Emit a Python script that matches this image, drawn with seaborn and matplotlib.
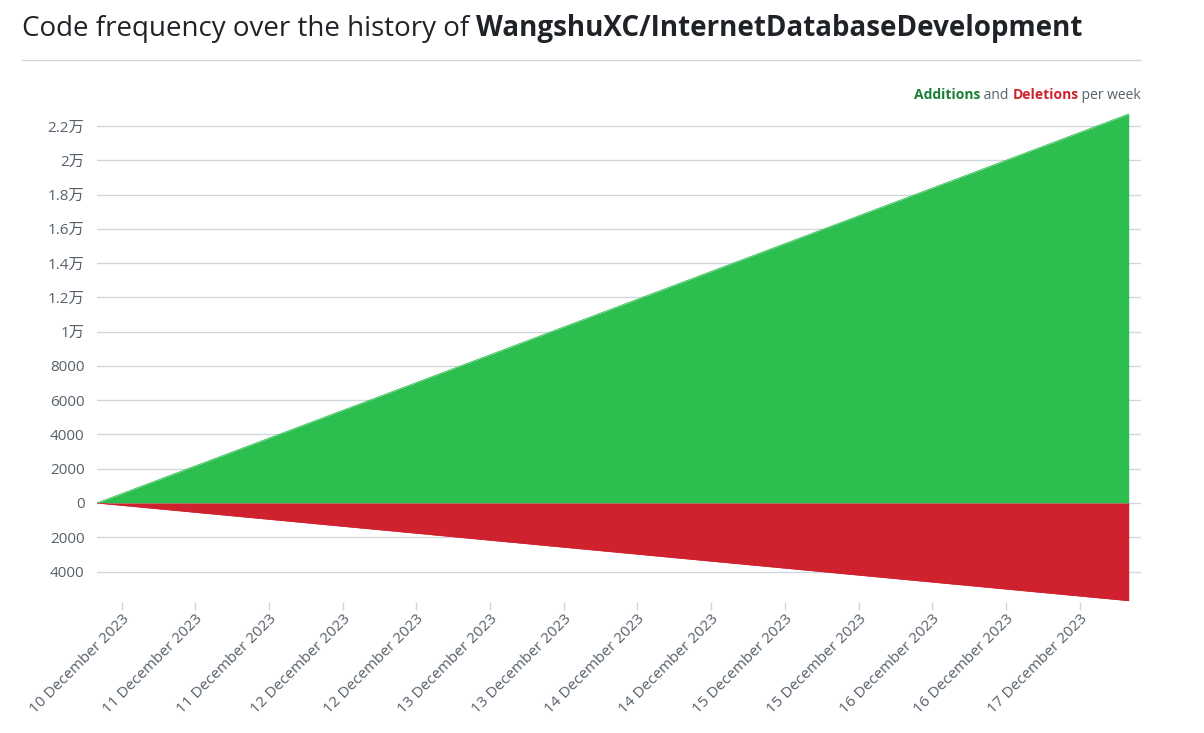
import numpy as np
import pandas as pd
import matplotlib
matplotlib.use("Agg")
import matplotlib.pyplot as plt
import matplotlib.dates as mdates
from matplotlib.ticker import FuncFormatter
import seaborn as sns

# data
weeks = pd.to_datetime(["2023-12-10 08:00", "2023-12-17 08:00"])
additions = [0, 22700]
deletions = [0, -5700]
y_ticks = [-4000, -2000, 0, 2000, 4000, 6000, 8000, 10000, 12000, 14000, 16000, 18000, 20000, 22000]
repo = "WangshuXC/InternetDatabaseDevelopment"

green = "#2cbe4e"
red = "#cf222e"
grey_txt = "#57606a"
grid_col = "#d0d7de"

sns.set_theme(style="white")
plt.rcParams['font.family'] = ['Open Sans', 'Noto Sans CJK SC', 'DejaVu Sans']

W, H = 1204, 733
fig = plt.figure(figsize=(W / 100, H / 100), dpi=100)
ax = fig.add_axes([97 / W, 1 - 602 / H, (1141 - 97) / W, (602 - 110) / H])

df = pd.DataFrame({"week": weeks, "Additions": additions, "Deletions": deletions})
sns.lineplot(data=df, x="week", y="Additions", ax=ax, color=green, linewidth=0.6)
sns.lineplot(data=df, x="week", y="Deletions", ax=ax, color=red, linewidth=0.6)
ax.fill_between(df["week"], 0, df["Additions"], color=green, linewidth=0)
ax.fill_between(df["week"], 0, df["Deletions"], color=red, linewidth=0)

ax.set_xlim(weeks[0], weeks[-1] + pd.Timedelta(hours=2))
ax.set_ylim(-5778, 22934)

# y axis
def fmt_y(v, pos):
    v = abs(v)
    if v >= 10000:
        s = f"{v / 10000:.1f}".rstrip("0").rstrip(".")
        return s + "万"
    return f"{int(v)}"

ax.set_yticks(y_ticks)
ax.yaxis.set_major_formatter(FuncFormatter(fmt_y))
ax.grid(axis="y", color=grid_col, linewidth=1)
ax.set_axisbelow(True)

# x axis
xt = pd.date_range("2023-12-10 12:00", periods=14, freq="12h")
ax.set_xticks(xt)
ax.xaxis.set_major_formatter(mdates.DateFormatter("%d December %Y"))
for lab in ax.get_xticklabels():
    lab.set_rotation(45)
    lab.set_ha("right")
    lab.set_rotation_mode("anchor")

ax.tick_params(axis="x", direction="out", length=6, width=1, color=grid_col,
               labelsize=11, labelcolor=grey_txt, pad=1, bottom=True)
ax.tick_params(axis="y", length=0, labelsize=11, labelcolor=grey_txt, pad=9)
for s in ax.spines.values():
    s.set_visible(False)
ax.set_xlabel("")
ax.set_ylabel("")

# title
fig.canvas.draw()
r = fig.canvas.get_renderer()
t1 = fig.text(22 / W, 1 - 36 / H, "Code frequency over the history of ", fontsize=20,
              color="#1f2328", va="baseline", ha="left")
fig.canvas.draw()
bb = t1.get_window_extent(r)
fig.text(bb.x1 / W, 1 - 36 / H, repo, fontsize=20, fontweight="bold",
         color="#1f2328", va="baseline", ha="left")
fig.add_artist(plt.Line2D([22 / W, 1141 / W], [1 - 59.5 / H, 1 - 59.5 / H],
                          color=grid_col, linewidth=1, transform=fig.transFigure))

# legend text, right aligned
x_right = 1141
parts_order = [("Additions", "#1a7f37", "bold"), (" and ", grey_txt, "normal"),
               ("Deletions", red, "bold"), (" per week", grey_txt, "normal")]
for txt, col, wt in reversed(parts_order):
    t = fig.text(x_right / W, 1 - 99 / H, txt, fontsize=10, color=col, fontweight=wt,
                 ha="right", va="baseline")
    fig.canvas.draw()
    e = t.get_window_extent(r)
    x_right = e.x0

fig.savefig("out.png", dpi=100)
